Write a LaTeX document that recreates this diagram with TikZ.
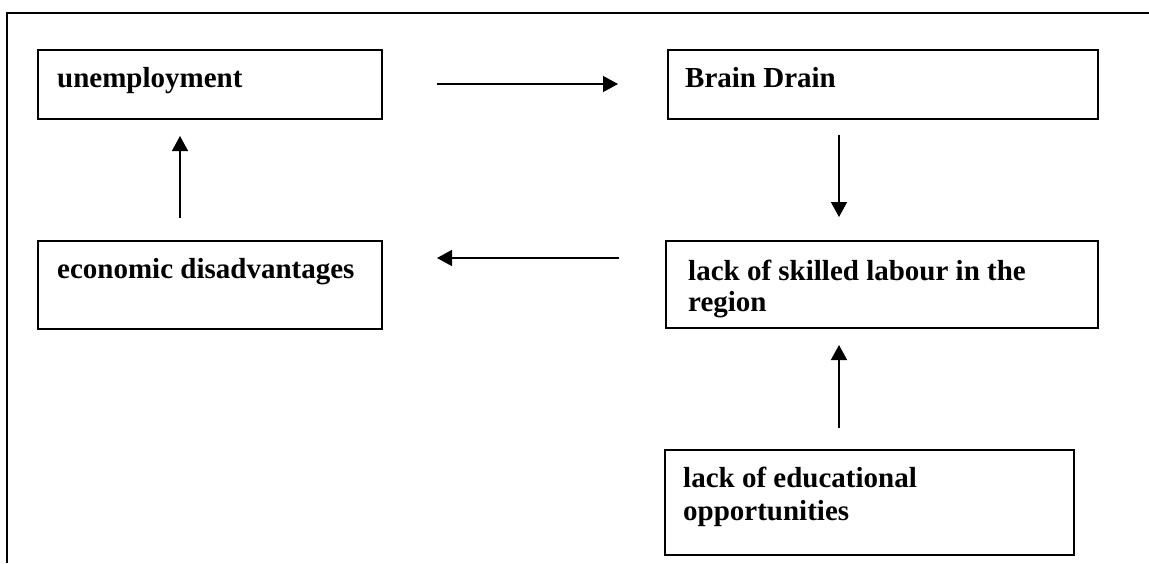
\documentclass[tikz,border=0pt]{standalone}
\usepackage{fontspec}
\setmainfont{Liberation Serif}
\usetikzlibrary{arrows.meta}
\tikzset{
  box/.style={draw, line width=2pt, rectangle, anchor=north west, inner sep=0pt},
  lbl/.style={anchor=base west, inner sep=0pt, align=left, font=\fontsize{29}{32}\selectfont\bfseries},
  arr/.style={line width=1.5pt, -{Triangle[length=15pt,width=16pt]}},
  frame/.style={line width=2pt}
}
\begin{document}
\begin{tikzpicture}[x=1pt,y=-1pt]
\useasboundingbox (0,0) rectangle (1149,563);
% outer frame
\coordinate (ftr) at (1149,13);
\coordinate (ftl) at (7,13);
\coordinate (fbl) at (7,563);
\draw[frame] (ftr) -- (ftl) -- (fbl);
% boxes
\node[box, minimum width=344pt, minimum height=69pt] (unemp) at (37,49) {};
\node[box, minimum width=430pt, minimum height=69pt] (brain) at (667,49) {};
\node[box, minimum width=344pt, minimum height=88pt] (econ) at (37,240) {};
\node[box, minimum width=432pt, minimum height=87pt] (skill) at (665,240) {};
\node[box, minimum width=409pt, minimum height=105pt] (edu) at (664,449) {};
% labels
\node[lbl] (tunemp) at (57,87) {unemployment};
\node[lbl] (tbrain) at (685,87) {Brain Drain};
\node[lbl] (tecon) at (57,278) {economic disadvantages};
\node[lbl] (tskill1) at (688,280) {lack of skilled labour in the};
\node[lbl] (tskill2) at (688,311) {region};
\node[lbl] (tedu1) at (683,487) {lack of educational};
\node[lbl] (tedu2) at (683,520) {opportunities};
% arrow end points
\coordinate (a1s) at (437,84);
\coordinate (a1e) at (618,84);
\coordinate (a2s) at (839,135);
\coordinate (a2e) at (839,217);
\coordinate (a3s) at (619,258);
\coordinate (a3e) at (437,258);
\coordinate (a4s) at (180,218);
\coordinate (a4e) at (180,136);
\coordinate (a5s) at (839,428);
\coordinate (a5e) at (839,345);
\draw[arr] (a1s) -- (a1e);
\draw[arr] (a2s) -- (a2e);
\draw[arr] (a3s) -- (a3e);
\draw[arr] (a4s) -- (a4e);
\draw[arr] (a5s) -- (a5e);
\end{tikzpicture}
\end{document}
